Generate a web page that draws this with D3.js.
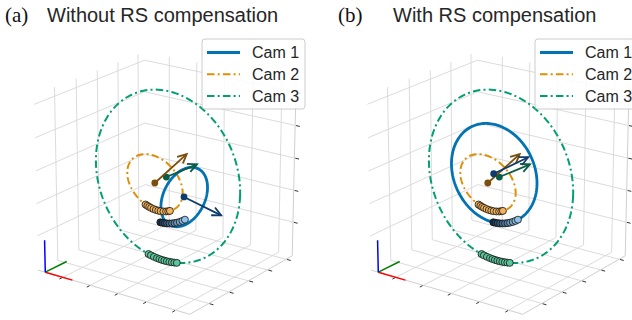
<!DOCTYPE html>
<html><head><meta charset="utf-8">
<script src="https://cdn.jsdelivr.net/npm/d3@7"></script>
<style>
body{margin:0;background:#fff}
text{font-family:"Liberation Sans",Arial,sans-serif;fill:#262626}
</style>
</head><body>
<svg id="chart" width="632" height="320"></svg>
<script>
// axis ranges and ticks (ticks carry no labels in the figure)
const xDomain = [-0.92, 4.48];
const yDomain = [-0.92, 4.33];
const zDomain = [-1.07, 4.27];
const xTicks = [0, 1, 2, 3, 4];
const yTicks = [0, 1, 2, 3, 4];
const zTicks = [0, 1, 2, 3, 4];

const camNames = ["Cam 1", "Cam 2", "Cam 3"];
const panelTitles = ["Without RS compensation", "With RS compensation"];
const panelTags = ["(a)", "(b)"];

// fitted circles, panel (a) = without compensation
const centerA = [[2.31, 1.85, 1.07], [1.85, 1.05, 1.64], [1.78, 1.71, 1.61]];
const normalA = [[0.262, 0.797, -0.544], [-0.045, 0.973, 0.216], [0.007, 1.0, -0.037]];
const radiusA = [0.91, 0.94, 2.58];
const arrowA = [1.62, 1.73, 1.53];
// panel (b) = with compensation
const centerB = [[1.63, 1.64, 1.70], [1.85, 1.05, 1.64], [1.78, 1.71, 1.61]];
const normalB = [[-0.024, 1.0, -0.013], [-0.045, 0.973, 0.216], [0.007, 1.0, -0.037]];
const radiusB = [1.50, 0.94, 2.58];
const arrowB = [1.80, 1.73, 1.53];
// camera positions, as angles (deg) on the true circle
const markAngles = [
  [90, 87, 84, 81, 77.5, 74, 70.5, 67, 63, 59, 55],
  [118, 114, 110, 106, 101, 96, 91, 86, 80, 74, 69, 65],
  [103, 101, 98.5, 96, 94, 92, 90, 88, 86, 84, 82, 80]
];
// world frame at the box corner
const frameOrigin = [-0.65, -0.92, -1.07];

const lineCol = ["#0173b2", "#de8f05", "#029e73"];
const darkCol = ["#0e3c6b", "#7b4e0c", "#0c5c45"];
const markLight = ["#8ec2ea", "#f4b35c", "#5cc39b"];
const markDark = ["#16314f", "#f4b35c", "#5cc39b"];

// view
const view = {azim: -54.16, elev: 20.19, dist: 11.207, aspect: [1, 0.972, 0.989], scale: 187.0, cx: 166.2, cy: 177.4};

const xs = d3.scaleLinear().domain(xDomain).range([-view.aspect[0] / 2, view.aspect[0] / 2]);
const ys = d3.scaleLinear().domain(yDomain).range([-view.aspect[1] / 2, view.aspect[1] / 2]);
const zs = d3.scaleLinear().domain(zDomain).range([-view.aspect[2] / 2, view.aspect[2] / 2]);

const a = view.azim * Math.PI / 180, e = view.elev * Math.PI / 180;
const fw = [Math.cos(e) * Math.cos(a), Math.cos(e) * Math.sin(a), Math.sin(e)];
const rt = [-Math.sin(a), Math.cos(a), 0];
const up = [-Math.sin(e) * Math.cos(a), -Math.sin(e) * Math.sin(a), Math.cos(e)];
const dot = (p, q) => p[0] * q[0] + p[1] * q[1] + p[2] * q[2];
const cross = (p, q) => [p[1] * q[2] - p[2] * q[1], p[2] * q[0] - p[0] * q[2], p[0] * q[1] - p[1] * q[0]];
const unit = p => { const l = Math.hypot(p[0], p[1], p[2]); return p.map(v => v / l); };

function proj(d) {
  const P = [xs(d[0]), ys(d[1]), zs(d[2])];
  const k = view.scale * view.dist / (view.dist - dot(P, fw));
  return [view.cx + k * dot(P, rt), view.cy - k * dot(P, up)];
}

function circle(c, n, rad, degs) {
  const nn = unit(n), e1 = unit(cross(nn, [0, 0, 1])), e2 = cross(nn, e1);
  return degs.map(t => {
    const r = t * Math.PI / 180;
    return [0, 1, 2].map(i => c[i] + rad * (Math.cos(r) * e1[i] + Math.sin(r) * e2[i]));
  });
}

const svg = d3.select("#chart");
const line = d3.line();
const ring = d3.range(0, 361, 2);

function seg(g, p, q, col, w) {
  const A = proj(p), B = proj(q);
  g.append("line").attr("x1", A[0]).attr("y1", A[1]).attr("x2", B[0]).attr("y2", B[1])
    .attr("stroke", col).attr("stroke-width", w);
}

function drawPanel(px, k) {
  const g = svg.append("g").attr("transform", `translate(${px},0)`);
  const [x0, x1] = xDomain, [y0, y1] = yDomain, [z0, z1] = zDomain;
  const grid = "#d7d7d7";
  // panes: bottom (z0), left (x0), back (y1)
  xTicks.forEach(x => { seg(g, [x, y0, z0], [x, y1, z0], grid, 0.9); seg(g, [x, y1, z0], [x, y1, z1], grid, 0.9); });
  yTicks.forEach(y => { seg(g, [x0, y, z0], [x1, y, z0], grid, 0.9); seg(g, [x0, y, z0], [x0, y, z1], grid, 0.9); });
  zTicks.forEach(z => { seg(g, [x0, y0, z], [x0, y1, z], grid, 0.9); seg(g, [x0, y1, z], [x1, y1, z], grid, 0.9); });
  // axis lines
  seg(g, [x0, y0, z0], [x1, y0, z0], "#cfcfcf", 1);
  seg(g, [x1, y0, z0], [x1, y1, z0], "#cfcfcf", 1);
  seg(g, [x1, y1, z0], [x1, y1, z1], "#cfcfcf", 1);
  // tick marks
  xTicks.forEach(x => seg(g, [x, y0 - 0.03, z0], [x, y0 - 0.16, z0], "#333", 1));
  yTicks.forEach(y => seg(g, [x1 + 0.03, y, z0], [x1 + 0.16, y, z0], "#333", 1));
  zTicks.forEach(z => seg(g, [x1 + 0.03, y1, z], [x1 + 0.16, y1, z], "#333", 1));
  // world frame
  const o = frameOrigin;
  seg(g, o, [o[0] + 1, o[1], o[2]], "#ff0000", 1.5);
  seg(g, o, [o[0], o[1] + 1, o[2]], "#008000", 1.5);
  seg(g, o, [o[0], o[1], o[2] + 1], "#0000ff", 1.5);

  const C = k ? centerB : centerA, N = k ? normalB : normalA, R = k ? radiusB : radiusA, L = k ? arrowB : arrowA;
  // circles, drawn back to front: Cam 3, Cam 2, Cam 1
  [2, 1, 0].forEach(i => {
    g.append("path").attr("d", line(circle(C[i], N[i], R[i], ring).map(proj)))
      .attr("fill", "none").attr("stroke", lineCol[i])
      .attr("stroke-width", i === 0 ? 2.8 : 2)
      .attr("stroke-dasharray", i === 0 ? null : "7.5,3.2,2,3.2");
  });
  // normal arrows with centre dots
  [2, 1, 0].forEach(i => {
    const n = unit(N[i]);
    const A = proj(C[i]), B = proj([0, 1, 2].map(j => C[i][j] + L[i] * n[j]));
    const ang = Math.atan2(B[1] - A[1], B[0] - A[0]);
    g.append("line").attr("x1", A[0]).attr("y1", A[1]).attr("x2", B[0]).attr("y2", B[1])
      .attr("stroke", darkCol[i]).attr("stroke-width", 1.8);
    const head = [ang + Math.PI - 0.45, ang + Math.PI + 0.45].map(t => [B[0] + 10 * Math.cos(t), B[1] + 10 * Math.sin(t)]);
    g.append("path").attr("d", line([head[0], B, head[1]]))
      .attr("fill", "none").attr("stroke", darkCol[i]).attr("stroke-width", 1.8);
    g.append("circle").attr("cx", A[0]).attr("cy", A[1]).attr("r", 3.4).attr("fill", darkCol[i]);
  });
  // camera positions
  [1, 0, 2].forEach(i => {
    const pts = circle(centerB[i], normalB[i], radiusB[i], markAngles[i]).map(proj);
    const col = d3.interpolateRgb(markDark[i], markLight[i]);
    g.selectAll(null).data(pts).join("circle")
      .attr("cx", d => d[0]).attr("cy", d => d[1]).attr("r", 3.5)
      .attr("fill", (d, j) => col(j / (pts.length - 1)))
      .attr("stroke", "#111").attr("stroke-width", 0.8);
  });
  // legend
  const lg = g.append("g").attr("transform", "translate(202,39)");
  lg.append("rect").attr("width", 103).attr("height", 70).attr("rx", 3)
    .attr("fill", "#fff").attr("fill-opacity", 0.85).attr("stroke", "#cccccc");
  camNames.forEach((name, i) => {
    const y = 13.5 + i * 21.8;
    lg.append("line").attr("x1", 5).attr("x2", 38).attr("y1", y).attr("y2", y)
      .attr("stroke", lineCol[i]).attr("stroke-width", i === 0 ? 2.8 : 2)
      .attr("stroke-dasharray", i === 0 ? null : "7.5,3.2,2,3.2");
    lg.append("text").attr("x", 50).attr("y", y + 5.8).attr("font-size", 16).text(name);
  });
  // title
  g.append("text").attr("x", k ? 5 : 5).attr("y", 22).attr("font-size", 21)
    .style("font-family", "'Liberation Serif', 'Times New Roman', serif").style("fill", "#111")
    .text(panelTags[k]);
  g.append("text").attr("x", k ? 60 : 47).attr("y", 22).attr("font-size", 20).text(panelTitles[k]);
}

drawPanel(0, 0);
drawPanel(333, 1);
</script>
</body></html>
